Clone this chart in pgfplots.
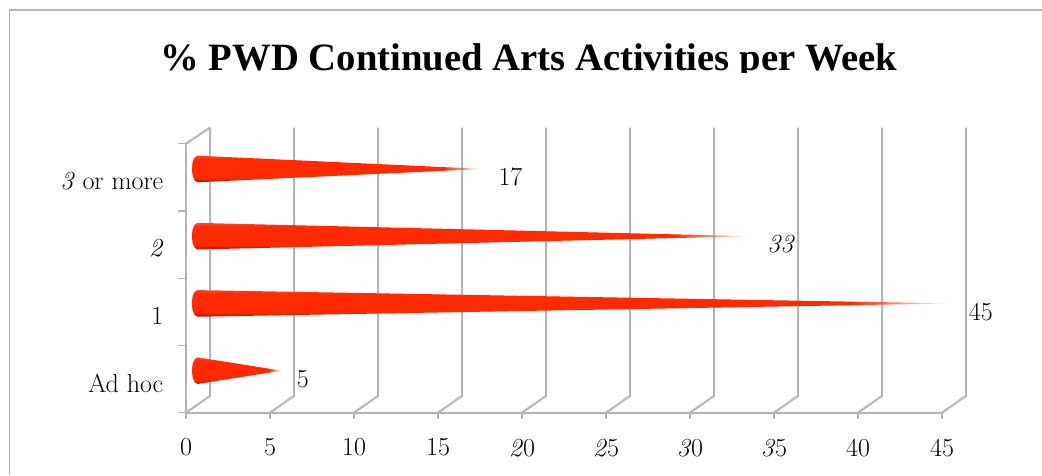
\documentclass[border=0pt]{standalone}
\usepackage{fontspec}
\usepackage{pgfplots}
\pgfplotsset{compat=1.18}
\usetikzlibrary{fadings}
\newfontfamily\titlefont{Liberation Serif}

% tip of each cone runs out into white
\pgfdeclarehorizontalshading{tipshade}{100bp}{color(0bp)=(white); color(25bp)=(white); color(68bp)=(white); color(75bp)=(black); color(100bp)=(black)}
\pgfdeclarefading{tipfade}{\pgfuseshading{tipshade}}

\definecolor{wall}{HTML}{B4B4B4}
\definecolor{conered}{HTML}{FF2A00}
\definecolor{conedark}{HTML}{B01000}
\definecolor{conelight}{HTML}{F04A30}

% red across most of the cone, dark only along the lower edge
\pgfdeclareverticalshading{conebody}{100bp}{color(0bp)=(conedark); color(25bp)=(conedark); color(33bp)=(conered); color(69bp)=(conered); color(75bp)=(conelight); color(100bp)=(conelight)}

\pgfplotsset{
  wallline/.style={draw=wall, line width=1.5pt, no marks},
  cone/.style={draw=none, no marks, shade, shading=conebody,
    path fading=tipfade, xshift=8.6pt, yshift=6.3pt},
}

\begin{document}
\begin{tikzpicture}[x=0.75pt, y=-0.75pt]
\path[use as bounding box] (0,0) rectangle (1042,475);
\draw[wall, line width=1.2pt] (9.5,475) -- (9.5,9.8) -- (1042,9.8);

\begin{axis}[
  at={(139.5pt,-309.5pt)}, anchor=south west,
  scale only axis, width=567pt, height=201.7pt,
  xmin=0, xmax=45, ymin=0, ymax=4,
  clip=false,
  axis lines=left,
  axis line style={-, draw=wall, line width=1.5pt},
  xtick={0,5,...,45},
  xticklabels={0,5,10,15,\textit{2}0,\textit{2}5,\textit{3}0,\textit{3}5,40,45},
  ytick={0.5,1.5,2.5,3.5},
  yticklabels={Ad hoc,1,\textit{2},\textit{3} or more},
  minor ytick={0,1,2,3,4},
  major y tick style={draw=none},
  minor y tick style={draw=wall, line width=1pt},
  major x tick style={draw=wall, line width=1pt},
  tick align=outside,
  major tick length=4.5pt,
  minor tick length=6pt,
  tick label style={font=\fontsize{19.5}{19.5}\selectfont, text=black},
  yticklabel style={anchor=east, xshift=-9pt, yshift=-3pt},
  xticklabel style={yshift=-11.5pt},
]
% back wall lines
\addplot[wallline] coordinates {(0,0) (1.43,0.25) (1.43,4.24)};
\addplot[wallline] coordinates {(5,0) (6.43,0.25) (6.43,4.24)};
\addplot[wallline] coordinates {(10,0) (11.43,0.25) (11.43,4.24)};
\addplot[wallline] coordinates {(15,0) (16.43,0.25) (16.43,4.24)};
\addplot[wallline] coordinates {(20,0) (21.43,0.25) (21.43,4.24)};
\addplot[wallline] coordinates {(25,0) (26.43,0.25) (26.43,4.24)};
\addplot[wallline] coordinates {(30,0) (31.43,0.25) (31.43,4.24)};
\addplot[wallline] coordinates {(35,0) (36.43,0.25) (36.43,4.24)};
\addplot[wallline] coordinates {(40,0) (41.43,0.25) (41.43,4.24)};
\addplot[wallline] coordinates {(45,0) (46.43,0.25) (46.43,4.24)};
\addplot[wallline] coordinates {(0,4) (1.43,4.24)};

% cones
\addplot[cone] coordinates {(5,0.5) (0,0.698) (-0.17,0.67) (-0.29,0.6) (-0.33,0.5) (-0.29,0.4) (-0.17,0.33) (0,0.302)} --cycle;
\addplot[cone] coordinates {(45,1.5) (0,1.698) (-0.17,1.67) (-0.29,1.6) (-0.33,1.5) (-0.29,1.4) (-0.17,1.33) (0,1.302)} --cycle;
\addplot[cone] coordinates {(33,2.5) (0,2.698) (-0.17,2.67) (-0.29,2.6) (-0.33,2.5) (-0.29,2.4) (-0.17,2.33) (0,2.302)} --cycle;
\addplot[cone] coordinates {(17,3.5) (0,3.698) (-0.17,3.67) (-0.29,3.6) (-0.33,3.5) (-0.29,3.4) (-0.17,3.33) (0,3.302)} --cycle;

% value labels
\addplot[draw=none, no marks, point meta=explicit symbolic,
  nodes near coords={\pgfplotspointmeta},
  nodes near coords style={anchor=west, inner sep=0pt, xshift=20pt, yshift=0pt, font=\fontsize{19.5}{19.5}\selectfont, text=black}]
  coordinates {(5,0.5)[5] (45,1.5)[45] (33,2.5)[\textit{33}] (17,3.5)[17]};
\end{axis}

\node[font=\titlefont\bfseries\fontsize{29}{29}\selectfont, anchor=base, inner sep=0pt] at (529,70.5) {\% PWD Continued Arts Activities per Week};
\fill[white] (100,72.5) rectangle (960,95);
\end{tikzpicture}
\end{document}
